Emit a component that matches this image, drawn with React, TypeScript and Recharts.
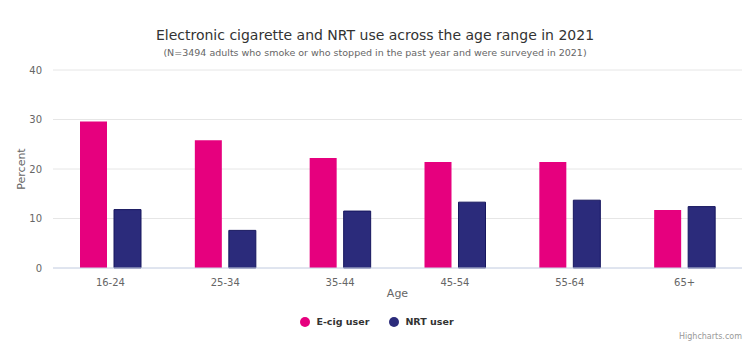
import { BarChart, Bar, XAxis, YAxis, CartesianGrid } from "recharts";

const categories = ["16-24", "25-34", "35-44", "45-54", "55-64", "65+"];
const ecigValues = [29.6, 25.8, 22.2, 21.4, 21.4, 11.7];
const nrtValues = [11.8, 7.6, 11.5, 13.3, 13.7, 12.4];
const yTicks = [0, 10, 20, 30, 40];

const PINK = "#e6007e";
const NAVY = "#2b2b7b";
const FONT = '"DejaVu Sans", sans-serif';

const series = [
  { key: "ecig", name: "E-cig user", color: PINK, stroke: "none" },
  { key: "nrt", name: "NRT user", color: NAVY, stroke: "#16165e" },
];

const App = () => {
  const data = categories.map((age, i) => ({
    age,
    ecig: ecigValues[i],
    nrt: nrtValues[i],
  }));

  return (
    <div
      style={{
        position: "absolute",
        left: 0,
        top: 0,
        width: 750,
        height: 353,
        background: "#fff",
        fontFamily: FONT,
      }}
    >
      <div
        style={{
          position: "absolute",
          top: 27,
          left: 0,
          width: 750,
          textAlign: "center",
          fontSize: 14,
          color: "#333",
        }}
      >
        Electronic cigarette and NRT use across the age range in 2021
      </div>
      <div
        style={{
          position: "absolute",
          top: 47,
          left: 0,
          width: 750,
          textAlign: "center",
          fontSize: 9.5,
          color: "#666",
        }}
      >
        (N=3494 adults who smoke or who stopped in the past year and were surveyed in 2021)
      </div>

      <BarChart
        width={750}
        height={353}
        data={data}
        margin={{ top: 70, right: 8, left: 0, bottom: 0 }}
        barGap={7}
        barSize={27}
        style={{ position: "absolute", left: 0, top: 0 }}
      >
        <CartesianGrid vertical={false} stroke="#e6e6e6" />
        <XAxis
          dataKey="age"
          height={85}
          tickLine={false}
          axisLine={{ stroke: "#ccd6eb" }}
          tick={{ fill: "#666", fontSize: 10, fontFamily: FONT }}
          tickMargin={5}
          label={{
            value: "Age",
            position: "insideTop",
            offset: 21,
            fill: "#666",
            fontSize: 11,
            fontFamily: FONT,
          }}
        />
        <YAxis
          width={53}
          domain={[0, 40]}
          ticks={yTicks}
          tickLine={false}
          axisLine={false}
          tickSize={8}
          tickMargin={3}
          tick={{ fill: "#666", fontSize: 10, fontFamily: FONT }}
          label={{
            value: "Percent",
            angle: -90,
            position: "insideLeft",
            offset: 21,
            textAnchor: "middle",
            fill: "#666",
            fontSize: 11,
            fontFamily: FONT,
          }}
        />
        {series.map((s) => (
          <Bar
            key={s.key}
            dataKey={s.key}
            name={s.name}
            fill={s.color}
            stroke={s.stroke}
            strokeWidth={1}
            isAnimationActive={false}
          />
        ))}
      </BarChart>

      <div
        style={{
          position: "absolute",
          top: 316,
          left: 0,
          width: 750,
          display: "flex",
          justifyContent: "center",
          gap: 20,
          paddingLeft: 4,
          boxSizing: "border-box",
        }}
      >
        {series.map((s) => (
          <div key={s.key} style={{ display: "flex", alignItems: "center" }}>
            <span
              style={{
                display: "inline-block",
                width: 10,
                height: 10,
                borderRadius: "50%",
                background: s.color,
                marginRight: 6,
              }}
            />
            <span style={{ fontSize: 9.5, fontWeight: "bold", color: "#333" }}>{s.name}</span>
          </div>
        ))}
      </div>

      <div
        style={{
          position: "absolute",
          right: 8,
          top: 332,
          fontSize: 8,
          color: "#999",
        }}
      >
        Highcharts.com
      </div>
    </div>
  );
};

export default App;
